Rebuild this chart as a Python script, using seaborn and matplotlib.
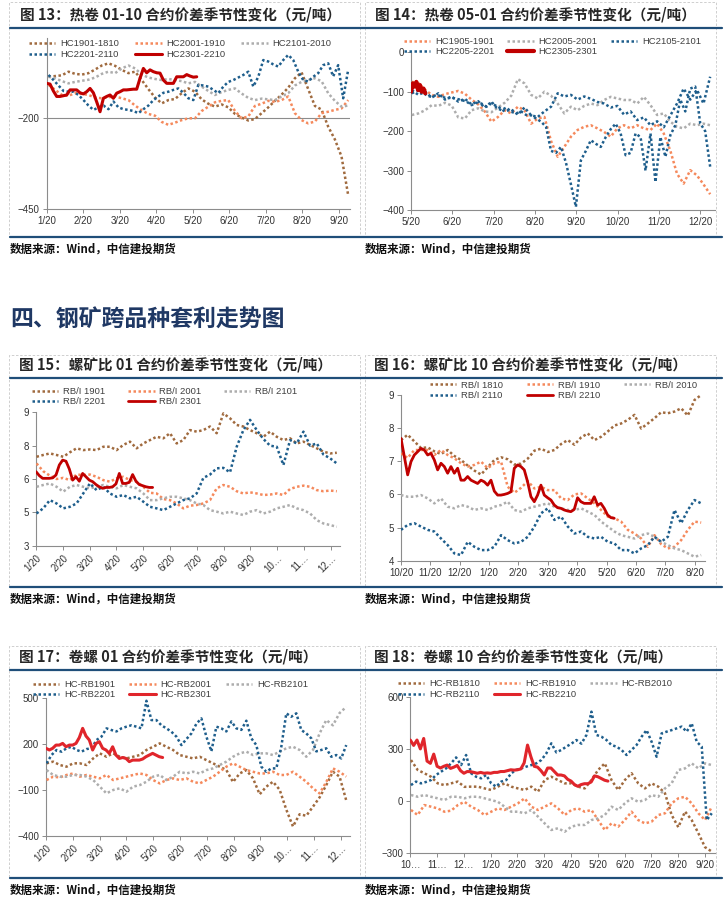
import numpy as np
import pandas as pd
import matplotlib.pyplot as plt
import seaborn as sns
from matplotlib.lines import Line2D
from matplotlib.patches import Rectangle

# ---- data: values, x in months from the first tick ----
months_a = ['1/20', '2/20', '3/20', '4/20', '5/20', '6/20', '7/20', '8/20', '9/20']
months_b = ['5/20', '6/20', '7/20', '8/20', '9/20', '10/20', '11/20', '12/20']
months_c = ['1/20', '2/20', '3/20', '4/20', '5/20', '6/20', '7/20', '8/20', '9/20', '10…', '11…', '12…']
months_d = ['10/20', '11/20', '12/20', '1/20', '2/20', '3/20', '4/20', '5/20', '6/20', '7/20', '8/20']
months_e = ['10…', '11…', '12…', '1/20', '2/20', '3/20', '4/20', '5/20', '6/20', '7/20', '8/20', '9/20']

# fig 13
p13_hc1901 = [-86, -84, -82, -72, -78, -80, -76, -66, -55, -49, -56, -67, -76, -72, -95, -120, -143, -159, -150, -147,
              -131, -118, -127, -148, -160, -168, -162, -170, -188, -198, -206, -202, -186, -170, -152, -135, -116, -90,
              -74, -120, -166, -176, -223, -258, -305, -411]
p13_hc2001 = [-108, -122, -136, -138, -131, -133, -136, -143, -145, -142, -140, -145, -150, -165, -178, -188, -193, -210,
              -218, -212, -205, -200, -200, -180, -168, -156, -152, -150, -180, -200, -195, -166, -160, -152, -155, -150,
              -140, -186, -205, -214, -209, -186, -182, -177, -173, -150]
p13_hc2101 = [-86, -90, -98, -104, -100, -97, -94, -88, -78, -72, -76, -63, -55, -63, -80, -88, -92, -95, -92, -95, -98,
              -104, -100, -113, -125, -136, -128, -122, -118, -132, -144, -150, -146, -148, -150, -140, -131, -110, -100,
              -95, -90, -98, -131, -152, -168, -165]
p13_hc2201 = [-81, -95, -110, -125, -127, -127, -136, -150, -165, -177, -170, -165, -175, -154, -170, -175, -177, -180,
              -186, -175, -165, -150, -140, -130, -127, -122, -118, -130, -145, -150, -108, -110, -113, -122, -131, -113,
              -100, -95, -88, -81, -72, -113, -86, -40, -44, -52, -58, -40, -26, -40, -72, -95, -99, -86, -76, -54, -49,
              -85, -54, -145, -67]
p13_hc2301 = [-104, -106, -125, -140, -140, -138, -136, -122, -122, -122, -130, -133, -127, -118, -130, -155, -182, -145,
              -140, -136, -145, -131, -127, -122, -122, -121, -120, -120, -90, -63, -75, -67, -72, -75, -76, -95, -104,
              -104, -104, -86, -86, -86, -80, -84, -87, -86]

# fig 14
p14_hc1905 = [-75, -78, -95, -108, -113, -106, -102, -98, -105, -120, -132, -150, -176, -164, -147, -155, -138, -147,
              -181, -168, -164, -225, -265, -240, -214, -197, -189, -185, -193, -202, -214, -193, -185, -193, -185, -193,
              -197, -181, -206, -250, -308, -333, -299, -312, -335, -360]
p14_hc2005 = [-159, -155, -147, -134, -136, -128, -135, -165, -168, -147, -142, -150, -152, -140, -128, -110, -68, -79,
              -108, -117, -100, -110, -130, -155, -138, -147, -136, -130, -134, -121, -113, -117, -121, -121, -130, -113,
              -134, -159, -155, -176, -189, -193, -181, -185, -181, -185]
p14_hc2105 = [-96, -108, -100, -115, -104, -120, -112, -125, -118, -132, -124, -140, -130, -138, -150, -145, -158, -140,
              -160, -164, -150, -138, -104, -112, -108, -120, -112, -118, -126, -130, -140, -136, -158, -150, -172, -165,
              -185, -175, -190, -160, -130, -92, -120, -95, -130, -62]
p14_hc2205 = [-104, -98, -96, -110, -113, -108, -112, -117, -115, -118, -121, -125, -134, -128, -130, -138, -125, -140,
              -147, -140, -151, -155, -150, -159, -160, -168, -176, -189, -250, -255, -240, -280, -335, -392, -274, -250,
              -223, -232, -240, -215, -195, -181, -206, -261, -255, -206, -215, -300, -206, -329, -215, -265, -210, -185,
              -120, -150, -92, -87, -180, -200, -290]
p14_hc2305 = [-100, -79, -87, -75, -96, -83, -100, -92, -104]

# fig 15
p15_1901 = [7.0, 7.08, 7.15, 7.08, 7.0, 7.2, 7.38, 7.3, 7.33, 7.3, 7.45, 7.45, 7.3, 7.53, 7.68, 7.38, 7.6, 7.75, 7.9,
            7.83, 8.06, 7.6, 7.75, 8.2, 8.13, 8.2, 8.36, 8.06, 8.95, 8.73, 8.43, 8.36, 8.2, 8.06, 7.9, 8.13, 7.9, 7.75,
            7.83, 7.6, 7.68, 7.53, 7.38, 7.23, 7.15, 7.18]
p15_2001 = [6.7, 6.35, 6.15, 6.0, 6.05, 5.95, 6.2, 6.18, 6.2, 6.1, 5.95, 5.88, 6.03, 6.1, 5.95, 5.88, 5.65, 5.38, 5.35,
            5.1, 5.05, 4.9, 4.68, 4.8, 4.83, 4.9, 5.05, 5.58, 5.73, 5.65, 5.45, 5.35, 5.4, 5.35, 5.28, 5.3, 5.35, 5.28,
            5.55, 5.65, 5.7, 5.65, 5.5, 5.45, 5.48, 5.45]
p15_2101 = [5.65, 5.73, 5.8, 5.65, 5.43, 5.65, 5.73, 5.65, 5.58, 5.65, 5.73, 5.65, 5.58, 5.73, 5.65, 5.58, 5.35, 5.05,
            5.05, 5.13, 5.2, 5.2, 5.13, 5.05, 4.9, 4.83, 4.6, 4.53, 4.45, 4.53, 4.45, 4.38, 4.53, 4.6, 4.45, 4.53, 4.68,
            4.75, 4.83, 4.68, 4.6, 4.45, 4.15, 4.0, 3.93, 3.85]
p15_2201 = [4.45, 4.68, 5.05, 4.9, 4.68, 4.75, 4.9, 5.35, 5.8, 5.5, 5.65, 5.35, 5.2, 5.28, 5.13, 5.2, 4.98, 4.75, 4.68,
            4.6, 4.75, 4.9, 5.05, 5.13, 5.35, 6.05, 6.2, 6.48, 6.5, 6.3, 7.45, 8.2, 8.66, 8.2, 7.8, 7.5, 7.45, 6.63, 7.75,
            7.6, 8.13, 7.5, 7.6, 7.1, 6.93, 6.7]
p15_2301 = [6.33, 6.15, 6.03, 6.03, 6.03, 6.05, 6.18, 6.63, 6.85, 6.8, 6.45, 5.95, 6.1, 5.9, 6.25, 6.1, 5.95, 5.88, 5.75,
            5.65, 5.58, 5.62, 5.62, 5.65, 5.78, 6.25, 5.8, 5.8, 5.85, 6.2, 5.9, 5.75, 5.7, 5.65, 5.62, 5.62]

# fig 16
p16_1810 = [7.64, 7.8, 7.6, 7.4, 7.42, 7.3, 7.22, 7.34, 7.16, 7.04, 6.87, 6.72, 6.6, 6.82, 7.04, 7.12, 7.06, 6.9, 6.93,
            7.08, 7.32, 7.38, 7.28, 7.34, 7.52, 7.64, 7.5, 7.72, 7.84, 7.64, 7.74, 7.9, 8.08, 8.14, 8.25, 8.4, 7.99, 8.14,
            8.3, 8.48, 8.45, 8.5, 8.6, 8.38, 8.85, 9.0]
p16_1910 = [7.24, 7.1, 7.34, 7.34, 7.34, 7.19, 7.34, 7.19, 7.09, 6.94, 6.84, 6.89, 6.99, 6.79, 6.94, 6.99, 6.23, 6.05,
            6.2, 6.4, 6.18, 6.23, 6.13, 6.13, 5.88, 5.83, 6.0, 6.03, 5.88, 5.73, 5.53, 5.33, 5.28, 5.18, 4.93, 4.82, 4.67,
            4.42, 4.77, 4.5, 4.37, 4.42, 4.62, 4.93, 5.18, 5.15]
p16_2010 = [5.98, 5.93, 5.93, 5.98, 5.88, 5.73, 5.88, 5.63, 5.58, 5.68, 5.63, 5.53, 5.58, 5.53, 5.63, 5.68, 5.78, 5.53,
            5.48, 5.58, 5.63, 5.68, 5.73, 5.63, 5.58, 5.53, 5.53, 5.58, 5.48, 5.38, 5.18, 5.03, 4.88, 4.77, 4.72, 4.67,
            4.77, 4.82, 4.72, 4.57, 4.47, 4.37, 4.32, 4.22, 4.12, 4.17]
p16_2110 = [4.93, 5.08, 5.13, 5.03, 4.93, 4.88, 4.67, 4.47, 4.22, 4.17, 4.57, 4.42, 4.32, 4.32, 4.42, 4.77, 4.62, 4.52,
            4.57, 4.72, 5.03, 5.43, 5.58, 5.23, 5.33, 5.03, 4.82, 4.88, 4.72, 4.67, 4.72, 4.57, 4.52, 4.32, 4.32, 4.22,
            4.37, 4.47, 4.72, 4.57, 4.72, 5.53, 5.13, 5.53, 5.83, 5.73]
p16_2210 = [7.69, 7.14, 6.59, 6.99, 7.19, 7.29, 7.39, 7.34, 7.19, 7.24, 7.04, 6.74, 6.94, 6.84, 6.64, 6.84, 6.64, 6.79,
            6.43, 6.43, 6.54, 6.43, 6.38, 6.33, 6.43, 6.38, 6.28, 6.43, 6.1, 5.98, 5.98, 6.0, 6.03, 6.08, 6.79, 6.89,
            6.84, 6.74, 6.38, 5.93, 5.78, 5.98, 6.28, 5.98, 5.9, 5.83, 5.68, 5.6, 5.58, 5.53, 5.5, 5.48, 5.55, 5.9,
            5.78, 5.73, 5.73, 5.73, 5.93, 5.68, 5.73, 5.58, 5.38, 5.3, 5.28]

# fig 17
p17_1901 = [72, 83, 61, 50, 72, 72, 61, 104, 137, 115, 137, 115, 104, 115, 126, 159, 180, 202, 180, 159, 126, 115, 104,
            115, 93, 72, 50, 28, -50, 6, 28, -26, -130, -80, -48, -100, -230, -340, -260, -270, -211, -150, -70, 17, -15,
            -170]
p17_2001 = [-37, -15, -20, -4, 6, -15, -4, -15, -26, -4, -37, -26, -15, -4, 6, -4, -37, -59, -37, -26, -37, -26, -48,
            -59, -37, -15, 17, 50, 72, 50, 28, 17, 6, 6, 17, -4, -4, 17, -15, -48, -91, -124, -50, 39, 17, -15]
p17_2101 = [28, -4, -15, -15, -4, -4, -15, -37, -80, -124, -102, -91, -113, -80, -70, -48, -15, -4, -37, -15, 17, 6, 17,
            6, 28, 39, 61, 83, 115, 137, 148, 126, 137, 137, 126, 148, 170, 180, 159, 115, 159, 267, 354, 320, 400, 440]
p17_2201 = [72, 126, 159, 148, 170, 180, 159, 148, 165, 170, 224, 246, 300, 289, 280, 300, 311, 320, 311, 300, 480, 354,
            354, 320, 300, 278, 246, 191, 230, 267, 330, 365, 246, 150, 311, 300, 280, 345, 300, 290, 350, 235, 191, 50,
            17, 39, 39, 180, 398, 376, 398, 289, 267, 235, 150, 159, 170, 115, 126, 104, 191]
p17_2301 = [170, 159, 170, 191, 191, 202, 180, 191, 191, 202, 240, 300, 250, 224, 159, 202, 213, 170, 159, 137, 180, 126,
            104, 110, 104, 83, 93, 93, 93, 100, 115, 126, 137, 126, 115, 110]

# fig 18
p18_1810 = [236, 179, 160, 140, 102, 92, 102, 112, 82, 83, 83, 73, 64, 83, 102, 83, 73, 64, 83, 54, 121, 140, 121, 102,
            102, 83, 73, 121, 179, 217, 121, 64, 121, 160, 102, 73, 102, 83, 45, -80, -150, -60, -109, -185, -265, -290]
p18_1910 = [-51, -80, -23, -32, -42, -61, -55, -23, -4, -32, -51, -80, -61, -42, -51, -32, -13, 16, -32, -51, -32, -13,
            -42, -80, -51, -42, -61, -51, -109, -166, -128, -147, -109, -61, -109, -128, -118, -80, -70, -13, 16, 25, -13,
            -70, -109, -32]
p18_2010 = [35, 25, 35, 25, 16, 6, 25, 25, 16, 25, 25, 16, 6, -4, -32, -61, -61, -70, -51, -89, -128, -166, -156, -176,
            -147, -137, -137, -109, -99, -80, -32, -51, -13, 16, -4, 6, 35, 25, 73, 102, 179, 188, 217, 188, 217, 207]
p18_2110 = [92, 112, 102, 110, 121, 150, 169, 188, 217, 251, 207, 265, 160, 140, 131, 150, 102, 83, 112, 121, 160, 179,
            188, 198, 207, 217, 236, 274, 332, 280, 294, 313, 330, 351, 330, 380, 514, 380, 370, 351, 322, 313, 294, 265,
            294, 322, 370, 408, 341, 255, 389, 399, 408, 418, 428, 399, 447, 341, 313, -109, -70]
p18_2210 = [351, 320, 351, 300, 360, 230, 217, 270, 200, 190, 200, 207, 188, 195, 205, 175, 160, 170, 169, 165, 160, 165,
            160, 162, 160, 165, 165, 170, 170, 175, 180, 178, 180, 185, 220, 322, 255, 200, 195, 175, 150, 190, 190, 170,
            150, 150, 145, 125, 115, 95, 85, 95, 100, 100, 110, 145, 140, 130, 120, 115]

# ---- style ----
W, H = 724, 910
BROWN, ORANGE, GRAY, BLUE = '#A06A3E', '#F5895C', '#ADADAD', '#1E5E8C'
RED_A, RED_B = '#C00000', '#E0252B'
AXIS = '#8C8C8C'
NAVY = '#1F4E79'
CJK = ['Noto Sans CJK SC', 'DejaVu Sans']
DOTS = (0, (1, 1.0))

sns.set_style('ticks')
plt.rcParams['font.family'] = ['Liberation Sans', 'Noto Sans CJK SC', 'DejaVu Sans']


def px_rect(l, r, t, b):
    return [l / W, 1 - b / H, (r - l) / W, (b - t) / H]


def fx(x):
    return x / W


def fy(y):
    return 1 - y / H


panels = [
    dict(box=(46.7, 350, 38.2, 209.3), xlim=8.31, ylim=(-450, 20), yt=[-450, -200], ytl=None,
         xtl=months_a, rot=False, hline=-200,
         title='图 13：热卷 01-10 合约价差季节性变化（元/吨）', tpos=(20, 15), lpos=(29, 39.5), cs=1.7, src=(10, 249),
         series=[('HC1901-1810', p13_hc1901, 0.05, 8.26, BROWN, None),
                 ('HC2001-1910', p13_hc2001, 0.05, 8.26, ORANGE, None),
                 ('HC2101-2010', p13_hc2101, 0.05, 8.26, GRAY, None),
                 ('HC2201-2110', p13_hc2201, 0.05, 8.26, BLUE, None),
                 ('HC2301-2210', p13_hc2301, 0.0, 4.11, RED_A, 2.2)]),
    dict(box=(411, 714.7, 52.3, 210), xlim=7.35, ylim=(-400, 0), yt=[-400, -300, -200, -100, 0], ytl=None,
         xtl=months_b, rot=False, hline=None,
         title='图 14：热卷 05-01 合约价差季节性变化（元/吨）', tpos=(375, 15), lpos=(403.7, 37), cs=1.4, src=(365, 249),
         series=[('HC1905-1901', p14_hc1905, 0.02, 7.24, ORANGE, None),
                 ('HC2005-2001', p14_hc2005, 0.02, 7.24, GRAY, None),
                 ('HC2105-2101', p14_hc2105, 0.02, 7.24, BLUE, None),
                 ('HC2205-2201', p14_hc2205, 0.02, 7.24, BLUE, None),
                 ('HC2305-2301', p14_hc2305, 0.0, 0.345, RED_A, 3.0)]),
    dict(box=(36, 340, 412.3, 545.7), xlim=11.34, ylim=(3, 9), yt=[3, 4.5, 6, 7.5, 9], ytl=['3', '5', '6', '8', '9'],
         xtl=months_c, rot=True, hline=None,
         title='图 15：螺矿比 01 合约价差季节性变化（元/吨）', tpos=(19, 365), lpos=(32, 387), cs=2.4, src=(10, 599),
         series=[('RB/I 1901', p15_1901, 0.02, 11.22, BROWN, None),
                 ('RB/I 2001', p15_2001, 0.02, 11.22, ORANGE, None),
                 ('RB/I 2101', p15_2101, 0.02, 11.22, GRAY, None),
                 ('RB/I 2201', p15_2201, 0.02, 11.22, BLUE, None),
                 ('RB/I 2301', p15_2301, 0.0, 4.35, RED_A, 2.0)]),
    dict(box=(401, 704.7, 395, 560.7), xlim=10.34, ylim=(4, 9), yt=[4, 5, 6, 7, 8, 9], ytl=None,
         xtl=months_d, rot=False, hline=None,
         title='图 16：螺矿比 10 合约价差季节性变化（元/吨）', tpos=(374, 365), lpos=(430, 380.5), cs=2.5, src=(365, 599),
         series=[('RB/I 1810', p16_1810, 0.0, 10.22, BROWN, None),
                 ('RB/I 1910', p16_1910, 0.0, 10.22, ORANGE, None),
                 ('RB/I 2010', p16_2010, 0.0, 10.22, GRAY, None),
                 ('RB/I 2110', p16_2110, 0.0, 10.22, BLUE, None),
                 ('RB/I 2210', p16_2210, 0.0, 7.26, RED_A, 2.0)]),
    dict(box=(46, 350, 697.7, 835.7), xlim=11.34, ylim=(-400, 500), yt=[-400, -100, 200, 500], ytl=None,
         xtl=months_c, rot=True, hline=None,
         title='图 17：卷螺 01 合约价差季节性变化（元/吨）', tpos=(19, 657), lpos=(33, 680), cs=1.5, src=(10, 890),
         series=[('HC-RB1901', p17_1901, 0.02, 11.2, BROWN, None),
                 ('HC-RB2001', p17_2001, 0.02, 11.2, ORANGE, None),
                 ('HC-RB2101', p17_2101, 0.02, 11.2, GRAY, None),
                 ('HC-RB2201', p17_2201, 0.02, 11.2, BLUE, None),
                 ('HC-RB2301', p17_2301, 0.0, 4.35, RED_B, 2.2)]),
    dict(box=(410.3, 714.7, 696.7, 853.3), xlim=11.36, ylim=(-300, 600), yt=[-300, 0, 300, 600], ytl=None,
         xtl=months_e, rot=False, hline=None,
         title='图 18：卷螺 10 合约价差季节性变化（元/吨）', tpos=(374, 657), lpos=(397.7, 679.5), cs=1.5, src=(365, 890),
         series=[('HC-RB1810', p18_1810, 0.025, 11.25, BROWN, None),
                 ('HC-RB1910', p18_1910, 0.025, 11.25, ORANGE, None),
                 ('HC-RB2010', p18_2010, 0.025, 11.25, GRAY, None),
                 ('HC-RB2110', p18_2110, 0.025, 11.25, BLUE, None),
                 ('HC-RB2210', p18_2210, 0.0, 7.375, RED_B, 2.2)]),
]

fig = plt.figure(figsize=(W / 100, H / 100), dpi=100)
fig.patch.set_facecolor('white')


def hline_fig(x0, x1, y, color=NAVY, lw=1.6, ls='-'):
    fig.add_artist(Line2D([fx(x0), fx(x1)], [fy(y), fy(y)], transform=fig.transFigure,
                          color=color, lw=lw, ls=ls))


# panel frames: dashed boxes, title bars and source lines
for top, under, bottom in [(2, 28, 237), (355, 378, 587), (646, 670, 878)]:
    for x0, x1 in [(9, 360), (365, 716)]:
        fig.add_artist(Rectangle((fx(x0), fy(bottom)), (x1 - x0) / W, (bottom - top) / H,
                                 transform=fig.transFigure, fill=False, ec='#C8C8C8', lw=0.6, ls=(0, (3, 2))))
    hline_fig(10, 722, under)
    hline_fig(10, 722, bottom)

fig.text(fx(10), fy(320), '四、钢矿跨品种套利走势图', fontsize=16.5, fontweight='bold',
         color='#1F3864', va='center', family=CJK)

for p in panels:
    ax = fig.add_axes(px_rect(*p['box']))
    ax.set_facecolor('none')
    handles, labels = [], []
    for lab, vals, x0, x1, col, lw in p['series']:
        xs = np.linspace(x0, x1, len(vals))
        if lw:
            sns.lineplot(x=xs, y=vals, ax=ax, color=col, linewidth=lw, linestyle='-',
                         legend=False, zorder=4)
        else:
            sns.lineplot(x=xs, y=vals, ax=ax, color=col, linewidth=1.8, linestyle=DOTS,
                         dash_capstyle='butt', legend=False, zorder=3)
        handles.append(ax.lines[-1])
        labels.append(lab)
    if p['hline'] is not None:
        ax.axhline(p['hline'], color=AXIS, lw=0.8, zorder=1)

    ax.set_xlim(0, p['xlim'])
    ax.set_ylim(*p['ylim'])
    ax.set_xticks(range(len(p['xtl'])))
    ax.set_xticklabels(p['xtl'])
    ax.set_yticks(p['yt'])
    if p['ytl']:
        ax.set_yticklabels(p['ytl'])
    sns.despine(ax=ax)
    for s in ['left', 'bottom']:
        ax.spines[s].set_color(AXIS)
        ax.spines[s].set_linewidth(0.8)
    ax.tick_params(length=3, width=0.7, color=AXIS, labelsize=7, labelcolor='#333333', pad=2)
    ax.set_xlabel('')
    ax.set_ylabel('')
    if p['rot']:
        for t in ax.get_xticklabels():
            t.set_rotation(45)
            t.set_ha('right')
            t.set_va('top')
            t.set_rotation_mode('anchor')

    order = [0, 3, 1, 4, 2]
    leg = ax.legend([handles[i] for i in order], [labels[i] for i in order], ncol=3,
                    loc='upper left', bbox_to_anchor=(fx(p['lpos'][0]), fy(p['lpos'][1])),
                    bbox_transform=fig.transFigure, frameon=False, fontsize=6.8,
                    handlelength=2.8, handletextpad=0.5, columnspacing=p['cs'],
                    labelspacing=0.15, borderpad=0, borderaxespad=0)
    for t in leg.get_texts():
        t.set_color('#404040')

    fig.text(fx(p['tpos'][0]), fy(p['tpos'][1]), p['title'], fontsize=10.5, fontweight='bold',
             va='center', family=CJK)
    fig.text(fx(p['src'][0]), fy(p['src'][1]), '数据来源：Wind，中信建投期货', fontsize=8.3,
             fontweight='bold', va='center', family=CJK, color='#111111')

fig.savefig('out.png', dpi=100)
